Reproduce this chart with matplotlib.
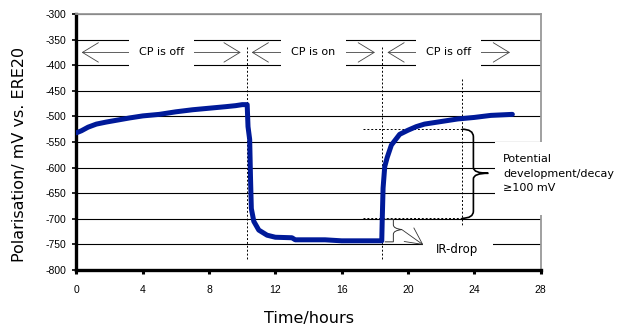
import matplotlib.pyplot as plt
from matplotlib.patches import Rectangle, PathPatch
from matplotlib.path import Path

plt.rcParams['axes.unicode_minus'] = False

# polarisation curve (hours, mV vs. ERE20)
time_h = [0.0, 0.3, 0.7, 1.2, 1.8, 2.5, 3.2, 4.0, 5.0, 6.0, 7.0, 8.0, 9.0, 9.6,
          10.0, 10.3, 10.35, 10.45, 10.5, 10.55, 10.7, 11.0, 11.5, 12.0, 13.0,
          13.2, 15.0, 16.0, 18.42, 18.45, 18.5, 18.6, 18.75, 19.0, 19.5, 20.0,
          20.5, 21.0, 22.0, 23.0, 24.0, 25.0, 26.3]
polar_mv = [-532, -528, -521, -515, -511, -507, -503, -499, -496, -491, -487,
            -484, -481, -479, -477, -477, -520, -545, -620, -680, -705, -722,
            -732, -736, -737, -741, -741, -743, -743, -700, -640, -598, -580,
            -556, -535, -527, -520, -515, -510, -505, -502, -498, -496]

xticks = [0, 4, 8, 12, 16, 20, 24, 28]
yticks = [-300, -350, -400, -450, -500, -550, -600, -650, -700, -750, -800]

# CP phases: (start, end, label)
phases = [(0.31, 9.91, 'CP is off'), (10.57, 18.01, 'CP is on'),
          (18.76, 26.16, 'CP is off')]
switch_h = [10.27, 18.46]

fig = plt.figure(figsize=(6.28, 3.29), dpi=100)
ax = fig.add_axes([0.1218, 0.1793, 0.7389, 0.7781])
ax.set_axisbelow(True)

ax.plot(time_h, polar_mv, color='#001A99', lw=3.6, solid_capstyle='round',
        solid_joinstyle='round', zorder=4)

ax.set_xlim(0, 28)
ax.set_ylim(-800, -300)
ax.set_xticks(xticks)
ax.set_yticks(yticks)
ax.grid(axis='y', color='black', lw=0.8)
for lab in ax.get_xticklabels() + ax.get_yticklabels():
    lab.set_fontfamily('Liberation Sans')
    lab.set_fontsize(7.5)
ax.tick_params(axis='x', direction='out', length=3, width=2.2, pad=8)
ax.tick_params(axis='y', direction='out', length=3, width=1.2, pad=4)

for s in ['left', 'bottom']:
    ax.spines[s].set_linewidth(2.4)
for s in ['top', 'right']:
    ax.spines[s].set_color('#999999')
    ax.spines[s].set_linewidth(1.3)

# switch lines
for h in switch_h:
    ax.plot([h, h], [-364, -780], color='black', lw=0.7, ls=(0, (2, 2)), zorder=2)
ax.plot([23.25, 23.25], [-426, -712], color='black', lw=0.7, ls=(0, (2, 2)), zorder=2)
for yv in [-525, -699]:
    ax.plot([17.3, 23.25], [yv, yv], color='black', lw=0.7, ls=(0, (2, 2)), zorder=2)

# phase arrows with labels
for a, b, lab in phases:
    ax.annotate('', xy=(a, -375), xytext=(b, -375),
                arrowprops=dict(arrowstyle='<->,head_length=1.15,head_width=0.7',
                                mutation_scale=10, lw=0.6, color='#444444',
                                shrinkA=0, shrinkB=0), zorder=3)
    c = (a + b) / 2
    ax.add_patch(Rectangle((c - 1.97, -403), 3.94, 56, facecolor='white',
                           edgecolor='none', zorder=3.5))
    ax.text(c, -375, lab, ha='center', va='center', fontsize=8,
            family='DejaVu Sans', zorder=5)

# big brace
brace = Path([(23.25, -525), (23.95, -525), (23.95, -540), (23.95, -560),
              (23.95, -600), (23.95, -611), (24.85, -611),
              (23.95, -611), (23.95, -622), (23.95, -660),
              (23.95, -685), (23.95, -699), (23.25, -699)],
             [Path.MOVETO, Path.CURVE3, Path.CURVE3, Path.LINETO,
              Path.LINETO, Path.CURVE3, Path.CURVE3,
              Path.CURVE3, Path.CURVE3, Path.LINETO,
              Path.LINETO, Path.CURVE3, Path.CURVE3])
ax.add_patch(PathPatch(brace, facecolor='none', edgecolor='black', lw=1.2, zorder=5))

ax.add_patch(Rectangle((25.26, -693), 8, 143, facecolor='white', edgecolor='none',
                       zorder=3.5, clip_on=False))
ax.text(25.75, -612, 'Potential\ndevelopment/decay\n\u2265100 mV', ha='left',
        va='center', fontsize=8, family='DejaVu Sans', linespacing=1.55, zorder=5)

# IR-drop brace
ir = Path([(18.6, -701), (19.12, -701), (19.12, -712), (19.12, -719),
           (19.63, -721), (19.12, -723), (19.12, -730), (19.12, -745),
           (18.6, -745)],
          [Path.MOVETO, Path.LINETO, Path.LINETO, Path.CURVE3, Path.CURVE3,
           Path.CURVE3, Path.CURVE3, Path.LINETO, Path.LINETO])
ax.add_patch(PathPatch(ir, facecolor='none', edgecolor='#333333', lw=0.7, zorder=5))
ax.annotate('', xy=(20.93, -751), xytext=(19.63, -721),
            arrowprops=dict(arrowstyle='->,head_length=1.2,head_width=0.6',
                            mutation_scale=10, lw=0.6, color='#333333',
                            shrinkA=0, shrinkB=0), zorder=5)
ax.add_patch(Rectangle((20.93, -770), 4.2, 30, facecolor='white', edgecolor='none',
                       zorder=3.5))
ax.text(22.96, -759, 'IR-drop', ha='center', va='center', fontsize=8.5,
        family='DejaVu Sans', zorder=5)

fig.text(20 / 628, 1 - 154 / 329, 'Polarisation/ mV vs. ERE20', rotation=90,
         ha='center', va='center', fontsize=11.5, family='DejaVu Sans')
fig.text(309 / 628, 1 - 319 / 329, 'Time/hours', ha='center', va='center',
         fontsize=11.5, family='DejaVu Sans')

fig.savefig('out.png', dpi=100)
